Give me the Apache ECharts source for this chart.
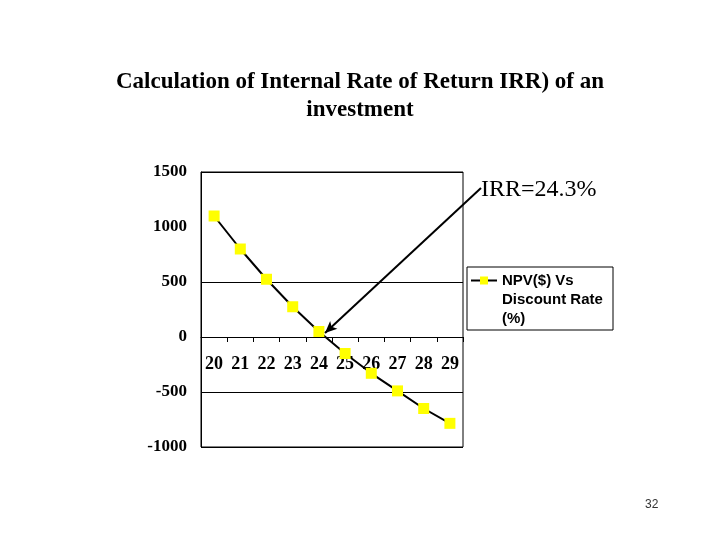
<!DOCTYPE html>
<html>
<head>
<meta charset="utf-8">
<script src="https://cdn.jsdelivr.net/npm/echarts@6/dist/echarts.min.js"></script>
<style>
  html, body { margin: 0; padding: 0; background: #fff; }
  #chart { width: 720px; height: 540px; }
</style>
</head>
<body>
<div id="chart"></div>
<script>
document.addEventListener('DOMContentLoaded', function() {

    // discount rate (%) and NPV ($)
    const rates = ['20', '21', '22', '23', '24', '25', '26', '27', '28', '29'];
    const npv = [1100, 800, 525, 275, 50, -150, -330, -490, -650, -785];
    const seriesName = 'NPV($) Vs';
    const legendLines = ['Discount Rate', '(%)'];
    const titleText = 'Calculation of Internal Rate of Return IRR) of an\ninvestment';
    const irrText = 'IRR=24.3%';

    const serif = '"Liberation Serif", "Times New Roman", serif';
    const sans = '"Liberation Sans", Arial, sans-serif';

    const chart = echarts.init(document.getElementById('chart'));

    chart.setOption({
        animation: false,
        backgroundColor: '#fff',
        title: {
            text: titleText,
            left: 'center',
            top: 63,
            textStyle: {
                fontFamily: serif,
                fontWeight: 'bold',
                fontSize: 23,
                lineHeight: 28,
                color: '#000'
            }
        },
        legend: {
            data: [seriesName],
            left: 470,
            top: 273,
            padding: 0,
            itemWidth: 26,
            itemHeight: 10,
            itemGap: 0,
            textStyle: {
                fontFamily: sans,
                fontWeight: 'bold',
                fontSize: 15,
                color: '#000'
            }
        },
        grid: {
            left: 201,
            right: 257,
            top: 172,
            bottom: 93,
            show: true,
            borderColor: '#000',
            borderWidth: 1,
            backgroundColor: 'transparent'
        },
        xAxis: {
            type: 'category',
            data: rates,
            boundaryGap: true,
            axisLine: { onZero: false, lineStyle: { color: '#000', width: 1 } },
            axisTick: { show: true, length: 5, lineStyle: { color: '#000' } },
            axisLabel: {
                margin: 18,
                fontFamily: serif,
                fontWeight: 'bold',
                fontSize: 18,
                color: '#000'
            },
            splitLine: { show: false }
        },
        yAxis: {
            type: 'value',
            min: -1000,
            max: 1500,
            interval: 500,
            axisLine: { show: true, lineStyle: { color: '#000' } },
            axisTick: { show: false },
            axisLabel: {
                margin: 14,
                fontFamily: serif,
                fontWeight: 'bold',
                fontSize: 17,
                color: '#000',
                formatter: function(v) { return String(v); }
            },
            splitLine: {
                show: true,
                lineStyle: {
                    color: ['#000', '#000', '#000', '#000', 'transparent', '#000'],
                    width: 1
                }
            }
        },
        series: [{
            name: seriesName,
            type: 'line',
            data: npv,
            symbol: 'rect',
            symbolSize: 11,
            itemStyle: { color: '#ffff00', borderWidth: 0 },
            lineStyle: { color: '#000', width: 2 },
            markLine: {
                silent: true,
                symbol: ['none', 'arrow'],
                symbolSize: [8, 12],
                label: { show: false },
                lineStyle: { color: '#000', width: 2, type: 'solid' },
                data: [[
                    { x: 481, y: 188 },
                    { x: 325, y: 333 }
                ]]
            }
        }],
        graphic: [
            {
                type: 'rect',
                shape: { x: 467, y: 267, width: 146, height: 63 },
                style: { fill: 'none', stroke: '#000', lineWidth: 1 },
                z: 1
            },
            {
                type: 'text',
                left: 502,
                top: 290,
                style: {
                    text: legendLines.join('\n'),
                    fontFamily: sans,
                    fontWeight: 'bold',
                    fontSize: 15,
                    lineHeight: 19,
                    fill: '#000'
                }
            },
            {
                type: 'text',
                left: 481,
                top: 178,
                style: {
                    text: irrText,
                    fontFamily: serif,
                    fontSize: 24,
                    fill: '#000'
                }
            },
            {
                type: 'text',
                left: 645,
                top: 499,
                style: {
                    text: '32',
                    fontFamily: sans,
                    fontSize: 12,
                    fill: '#333'
                }
            }
        ]
    });

    // put the category axis (line, ticks, labels) on the zero line
    const zeroY = chart.convertToPixel({ yAxisIndex: 0 }, 0);
    const bottomY = 540 - 93;
    chart.setOption({ xAxis: { offset: zeroY - bottomY } });

});
</script>
</body>
</html>
